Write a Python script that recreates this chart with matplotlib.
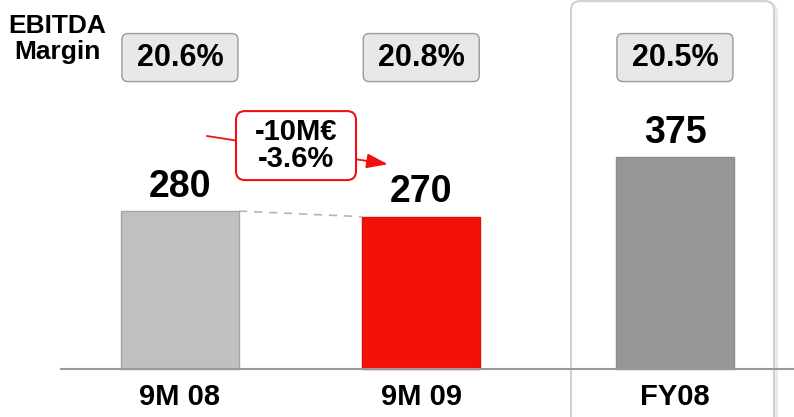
import numpy as np
import matplotlib.pyplot as plt
from matplotlib.patches import FancyBboxPatch

plt.rcParams['font.family'] = ['Liberation Sans', 'DejaVu Sans']

# data
periods = ['9M 08', '9M 09', 'FY08']
ebitda = [280, 270, 375]
margins = [20.6, 20.8, 20.5]
bar_colors = ['#c0c0c0', '#f3120a', '#969696']

# layout
xpos = [0, 0.975, 2.0]
width = 0.477
W, H = 794, 417
xlim = (-0.727, 2.481)
ylim = (-85, 654)
px_x = W / (xlim[1] - xlim[0])
px_y = H / (ylim[1] - ylim[0])
aspect = px_x / px_y

fig = plt.figure(figsize=(W / 100, H / 100), dpi=100)
ax = fig.add_axes([0, 0, 1, 1])
ax.set_xlim(*xlim)
ax.set_ylim(*ylim)
ax.axis('off')


def rbox(x0, y0, w, h, r_px, **kw):
    r = r_px / px_x
    p = FancyBboxPatch((x0, y0), w, h, boxstyle=f"round,pad=0,rounding_size={r}",
                       mutation_aspect=aspect, **kw)
    ax.add_patch(p)
    return p


# highlight frame round FY08
fx0, fx1 = xpos[2] - 0.42, xpos[2] + 0.40
for k, a in [(3, 0.04), (2, 0.06)]:
    rbox(fx0 + k / px_x, -120 - k / px_y, fx1 - fx0, 772, 9, fc='none',
         ec='#000000', lw=2, alpha=a, zorder=1)
rbox(fx0, -120, fx1 - fx0, 772, 9, fc='white', ec='#d0d0d0', lw=1.5, zorder=1.5)

# bars
ax.bar(xpos, ebitda, width=width, color=bar_colors, edgecolor=['#a6a6a6', '#e00e08', '#8c8c8c'],
       linewidth=1, zorder=3)

# baseline
ax.axhline(0, xmin=61 / W, xmax=1, color='#999999', lw=1.5, zorder=4)

# value labels
for x, v in zip(xpos, ebitda):
    ax.text(x, v + 11, f'{v}', ha='center', va='bottom', fontsize=27,
            fontweight='bold', zorder=5)

# category labels
for x, lab in zip(xpos, periods):
    ax.text(x, -49, lab, ha='center', va='center', fontsize=21,
            fontweight='bold', zorder=5)

# margin boxes
bw, bh = 116 / px_x, 48 / px_y
by = 552
for x, m in zip(xpos, margins):
    rbox(x - bw / 2, by - bh / 2, bw, bh, 6, fc='#e8e8e8', ec='#9a9a9a', lw=1, zorder=4)
    ax.text(x, by, f'{m:.1f}%', ha='center', va='center', fontsize=22,
            fontweight='bold', zorder=5)

ax.text(-0.494, 585, 'EBITDA\nMargin', ha='center', va='center', fontsize=19,
        fontweight='bold', linespacing=1.15, zorder=5)

# dashed connector between the two 9M bars
ax.plot([xpos[0] + width / 2, xpos[1] - width / 2], [ebitda[0], ebitda[1]],
        color='#b5b5b5', lw=1.2, ls=(0, (5, 4)), zorder=2)

# change annotation
diff = ebitda[1] - ebitda[0]
pct = diff / ebitda[0] * 100
ax.annotate('', xy=(0.840, 363), xytext=(0.109, 413),
            arrowprops=dict(arrowstyle='-|>,head_length=1.3,head_width=0.45',
                            color='#f01010', lw=1.3, shrinkA=0, shrinkB=0), zorder=5)
aw, ah = 120 / px_x, 69 / px_y
ax_c, ay_c = 0.469, 396
rbox(ax_c - aw / 2, ay_c - ah / 2, aw, ah, 9, fc='white', ec='#f01010', lw=1.5, zorder=6)
ax.text(ax_c, ay_c, f'{diff}M€\n{pct:.1f}%', ha='center', va='center', fontsize=21,
        fontweight='bold', linespacing=0.92, zorder=7)

fig.savefig('out.png', dpi=100)
